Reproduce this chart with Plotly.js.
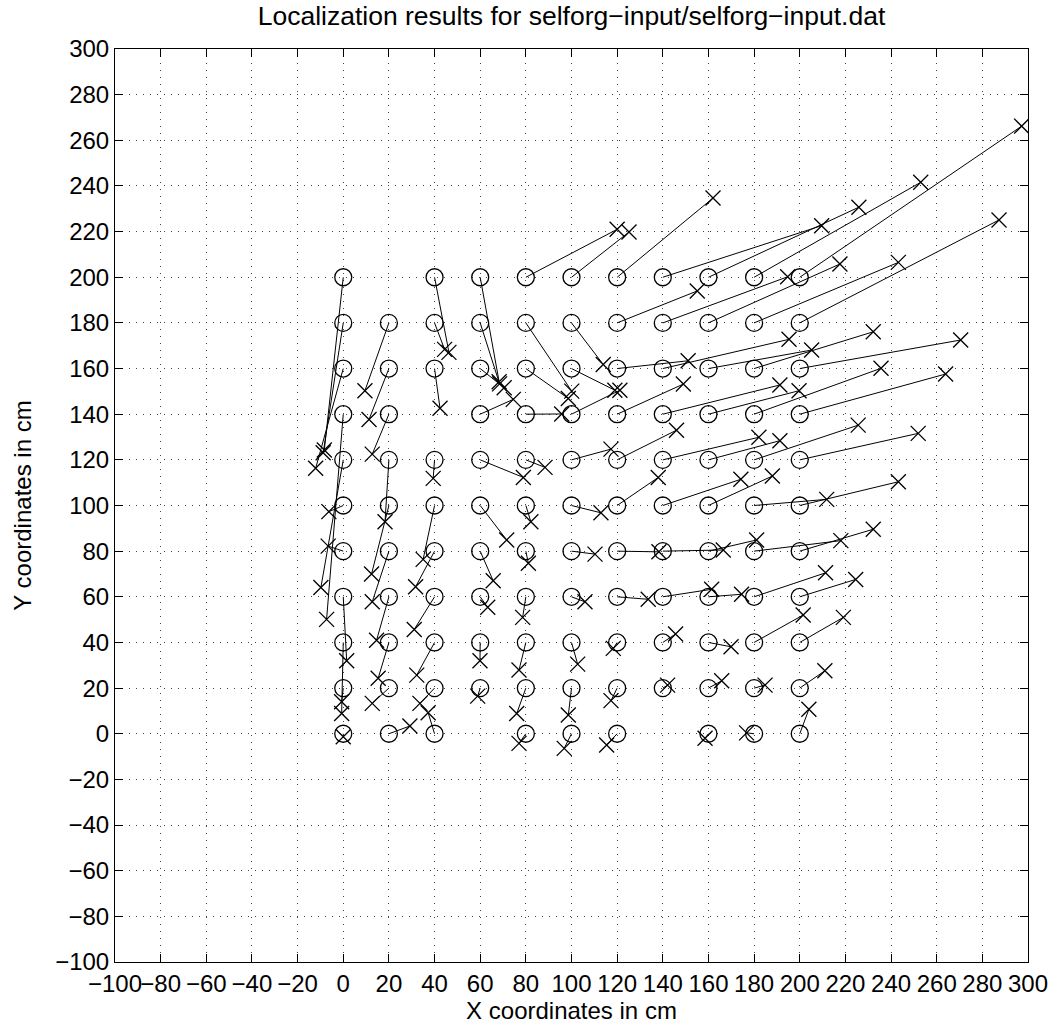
<!DOCTYPE html>
<html>
<head>
<meta charset="utf-8">
<script src="https://cdn.plot.ly/plotly-3.0.1.min.js"></script>
<style>
  html, body { margin: 0; padding: 0; background: #fff; }
  #chart { width: 1054px; height: 1030px; }
</style>
</head>
<body>
<div id="chart"></div>
<script>
// True node positions (circles), grouped by column x = 0, 20, ..., 200
const trueX = [
  0,0,0,0,0,0,0,0,0,0,0,
  20,20,20,20,20,20,20,20,20,20,
  40,40,40,40,40,40,40,40,40,40,
  60,60,60,60,60,60,60,60,60,60,
  80,80,80,80,80,80,80,80,80,80,80,
  100,100,100,100,100,100,100,100,100,100,100,
  120,120,120,120,120,120,120,120,120,120,120,
  140,140,140,140,140,140,140,140,140,140,
  160,160,160,160,160,160,160,160,160,160,160,
  180,180,180,180,180,180,180,180,180,180,180,
  200,200,200,200,200,200,200,200,200,200,200
];
const trueY = [
  0,20,40,60,80,100,120,140,160,180,200,
  0,20,40,60,80,100,120,140,160,180,
  0,20,40,60,80,100,120,160,180,200,
  20,40,60,80,100,120,140,160,180,200,
  0,20,40,60,80,100,120,140,160,180,200,
  0,20,40,60,80,100,120,140,160,180,200,
  0,20,40,60,80,100,120,140,160,180,200,
  20,40,60,80,100,120,140,160,180,200,
  0,20,40,60,80,100,120,140,160,180,200,
  0,20,40,60,80,100,120,140,160,180,200,
  0,20,40,60,80,100,120,140,160,180,200
];
// Estimated (localized) positions (crosses), same order
const estX = [
  0,-0.7,-0.7,1.5,-6.6,-6.3,-9.8,-7.3,-12.1,-8.8,-8.3,
  29.2,12.7,15.3,14.6,12.7,12.4,18.3,12.7,11.3,9.5,
  37.2,33.6,32.2,31.1,31.7,35,39.4,42.4,44.4,46.3,
  58.9,59.9,63.3,65.7,71.6,78.9,74.5,70.5,68.5,68.3,
  77,76,77,78.6,81.1,82.2,88.4,95.7,98.6,100.1,120,
  96.8,98.6,102.7,105.9,110.3,112.9,117.3,121.2,119,113.9,125.2,
  115.4,117.3,118.3,133.6,138.3,138,146,149,151.1,155.1,162,
  142.1,145.6,161.4,166.5,174.2,182.1,191.3,195.3,194.7,209.6,
  158.5,165.8,169.9,174.5,181.1,188,191.3,199.7,205.2,217.6,225.9,
  176.7,184.8,201.5,211.3,218,211.8,225.6,235.6,232.2,243.2,253,
  204,211,219.1,224.5,232.2,243.2,251.9,263.9,270.5,287.3,297.2
];
const estY = [
  -1.3,14,8.9,32,82.2,97.3,64.1,50.1,116.3,123.1,124.3,
  3.4,13.3,24.3,41,57.8,70,92.9,122.5,137.7,150.3,
  9.2,13.3,25.7,45.7,64.4,76.4,111.9,142.6,168.4,167.1,
  16.5,32,55.4,67,84.9,112.3,146.5,151.6,153.3,154.2,
  -4.2,8.9,27.9,51,74.7,92.9,116.7,140.1,146.9,150.1,221,
  -6.4,8.2,30.5,57.8,78.7,96.8,124.7,150.5,150.5,161.8,219.8,
  -4.9,14.5,37.4,58.9,79.7,112.3,133,153.2,163.4,194,234.7,
  21.3,43.7,63.3,80.5,111.5,129.9,152.8,172.8,200.2,222.6,
  -2,23.2,38.1,61.1,84.9,112.9,128.4,150.3,168.1,205.8,230.7,
  0.4,21.3,52,70.5,84.6,102.7,135.2,160.1,176.1,206.5,241.6,
  10.7,27.6,51,67.6,89.6,110.4,131.6,157.6,172.5,225.1,266.2
];

const titleText = 'Localization results for selforg\u2212input/selforg\u2212input.dat';
const xLabel = 'X coordinates in cm';
const yLabel = 'Y coordinates in cm';

// connecting segments from true to estimated positions
const segX = [], segY = [];
for (let i = 0; i < trueX.length; i++) {
  segX.push(trueX[i], estX[i], null);
  segY.push(trueY[i], estY[i], null);
}

const FONT = 'Liberation Sans, Arial, Helvetica, sans-serif';

const traces = [
  {
    x: segX, y: segY, type: 'scatter', mode: 'lines',
    line: { color: '#000', width: 1 }, hoverinfo: 'skip', showlegend: false
  },
  {
    x: trueX, y: trueY, type: 'scatter', mode: 'markers',
    marker: { symbol: 'circle-open', size: 17, color: '#000', line: { color: '#000', width: 1.3 } },
    showlegend: false
  },
  {
    x: estX, y: estY, type: 'scatter', mode: 'markers',
    marker: { symbol: 'x-thin-open', size: 15, color: '#000', line: { color: '#000', width: 1.3 } },
    showlegend: false
  }
];

const axisCommon = {
  range: [-100, 300], dtick: 20, tick0: 0, autorange: false,
  ticks: 'inside', ticklen: 8, tickwidth: 1, tickcolor: '#000',
  showline: true, linecolor: '#000', linewidth: 1, mirror: 'ticks',
  showgrid: true, gridcolor: '#444', gridwidth: 1, griddash: '1px,6px',
  zeroline: false, tickangle: 0,
  tickfont: { family: FONT, size: 24, color: '#000' }
};

const layout = {
  width: 1054, height: 1030,
  margin: { l: 115, r: 26, t: 49, b: 68 },
  paper_bgcolor: '#fff', plot_bgcolor: '#fff',
  title: {
    text: titleText, font: { family: FONT, size: 26.5, color: '#000' },
    xref: 'paper', x: 0.5, xanchor: 'center',
    yref: 'container', y: 0.985, yanchor: 'middle'
  },
  xaxis: Object.assign({}, axisCommon, {
    title: { text: xLabel, font: { family: FONT, size: 24, color: '#000' }, standoff: 4 }
  }),
  yaxis: Object.assign({}, axisCommon, {
    title: { text: yLabel, font: { family: FONT, size: 24, color: '#000' }, standoff: 16 }
  }),
  showlegend: false
};

Plotly.newPlot('chart', traces, layout, { displayModeBar: false, staticPlot: true });
</script>
</body>
</html>
